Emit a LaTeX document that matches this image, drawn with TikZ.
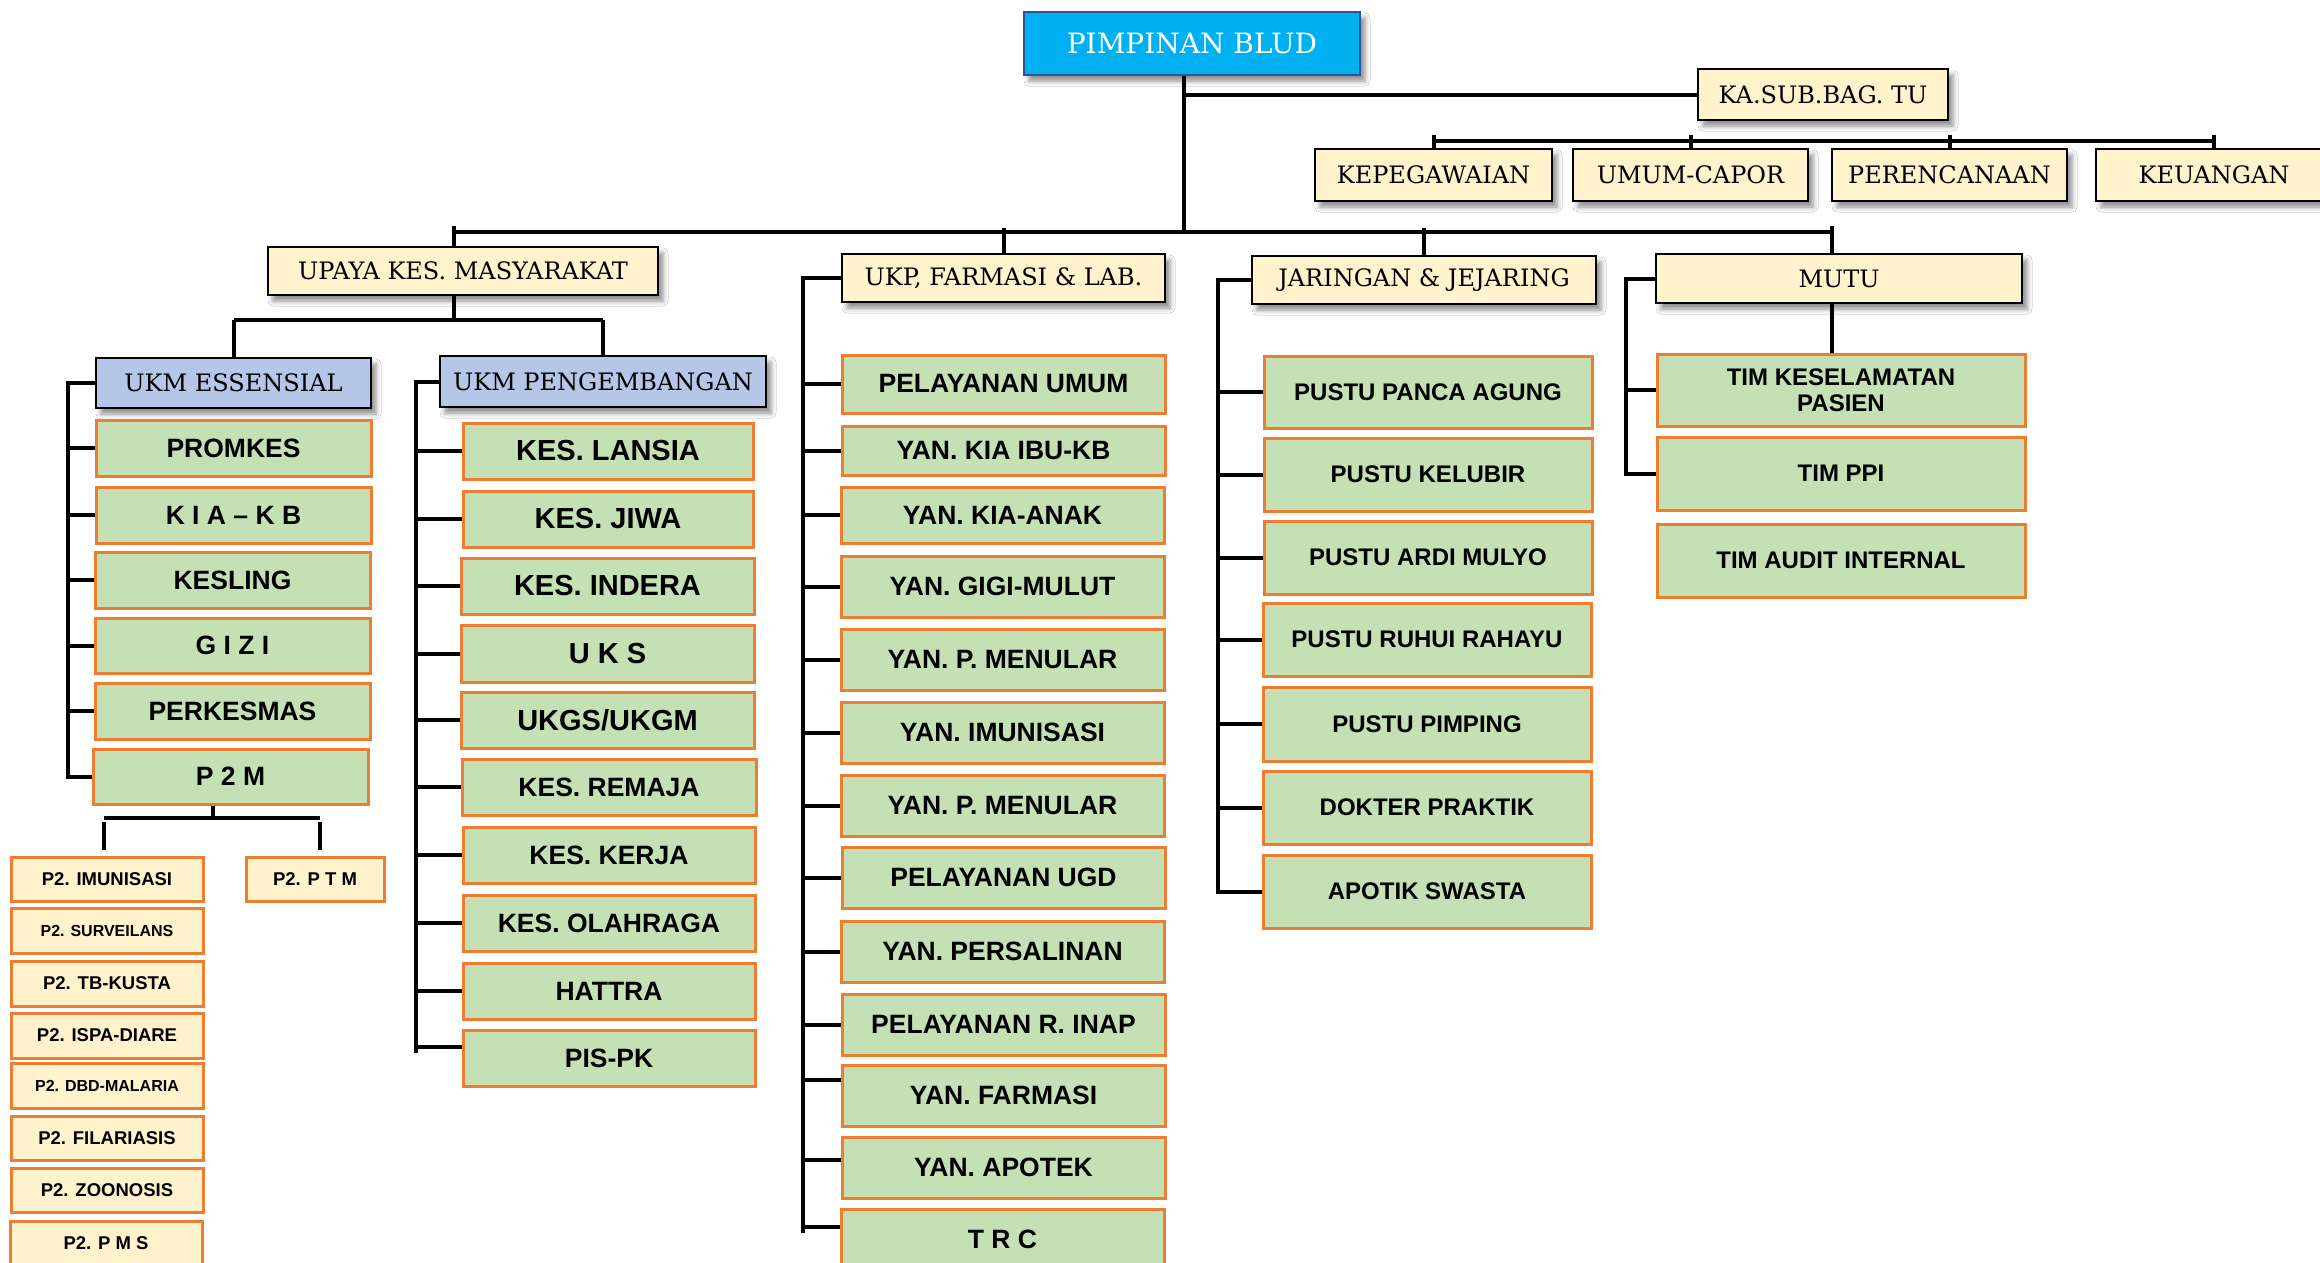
\documentclass[tikz,border=0pt]{standalone}
\usepackage{fontspec}
\newfontfamily\hdfamily{DejaVu Serif}
\newfontfamily\unitfamily{Liberation Sans}
\usetikzlibrary{calc,shadows.blur}

\definecolor{headfill}{HTML}{FFF2CC}
\definecolor{ukmfill}{HTML}{B4C7E7}
\definecolor{topfill}{HTML}{00B0F0}
\definecolor{topline}{HTML}{2F5597}
\definecolor{unitfill}{HTML}{C5E0B4}
\definecolor{unitline}{HTML}{ED7D31}

% box placed by its corners: style, name, x1, y1, x2, y2, text
\newcommand\orgnode[7]{\node[#1, minimum width={#5-#3}, minimum height={#6-#4}] (#2) at ({(#3+#5)/2},{(#4+#6)/2}) {#7};}

\tikzset{
  hdbox/.style={draw=black, line width=2.8pt, fill=headfill, inner sep=0pt,
    font=\hdfamily\fontsize{24}{28}\selectfont,
    blur shadow={shadow xshift=5pt, shadow yshift=-6pt, shadow blur radius=5pt, shadow opacity=45}},
  ukmbox/.style={hdbox, fill=ukmfill},
  topbox/.style={hdbox, draw=topline, fill=topfill, text=white, font=\hdfamily\fontsize{28}{32}\selectfont},
  unitbox/.style={draw=unitline, line width=3pt, fill=unitfill, inner sep=0pt, align=center,
    font=\unitfamily\bfseries\fontsize{26.5}{30}\selectfont},
  bigtxt/.style={font=\unitfamily\bfseries\fontsize{29}{32}\selectfont},
  midtxt/.style={font=\unitfamily\bfseries\fontsize{24}{26}\selectfont},
  p2box/.style={draw=unitline, line width=3pt, fill=headfill, inner sep=0pt,
    font=\unitfamily\bfseries\fontsize{18.5}{22}\selectfont},
  smalltxt/.style={font=\unitfamily\bfseries\fontsize{16}{19}\selectfont},
  link/.style={line width=4pt, black, line join=miter},
}

\begin{document}
\begin{tikzpicture}[x=1pt, y=-1pt]
\useasboundingbox (0,0) rectangle (2320,1262);
\fill[white] (0,0) rectangle (2320,1262);

% ---- top level ----
\orgnode{topbox}{pimp}{1024}{12}{1360}{75}{PIMPINAN BLUD}
\orgnode{hdbox}{kasub}{1698}{69}{1948}{120}{KA.SUB.BAG. TU}
\orgnode{hdbox}{kepeg}{1315}{149}{1552}{201}{KEPEGAWAIAN}
\orgnode{hdbox}{umumc}{1573}{149}{1808}{201}{UMUM-CAPOR}
\orgnode{hdbox}{peren}{1832}{149}{2067}{201}{PERENCANAAN}
\orgnode{hdbox}{keu}{2096}{149}{2332}{201}{KEUANGAN}

% ---- second level ----
\orgnode{hdbox}{upaya}{268}{247}{658}{295}{UPAYA KES. MASYARAKAT}
\orgnode{hdbox}{ukp}{842}{254}{1165}{302}{UKP, FARMASI \& LAB.}
\orgnode{hdbox}{jar}{1252}{256}{1596}{304}{JARINGAN \& JEJARING}
\orgnode{hdbox}{mutu}{1656}{254}{2022}{303}{MUTU}

\orgnode{ukmbox}{ukmE}{96}{358}{371}{408}{UKM ESSENSIAL}
\orgnode{ukmbox}{ukmP}{440}{356}{766}{407}{UKM PENGEMBANGAN}

% ---- UKM essensial ----
\orgnode{unitbox}{promkes}{96}{420}{371}{476}{PROMKES}
\orgnode{unitbox}{kiakb}{96}{487}{371}{543}{K I A – K B}
\orgnode{unitbox}{kesling}{95}{552}{370}{608}{KESLING}
\orgnode{unitbox}{gizi}{95}{618}{370}{673}{G I Z I}
\orgnode{unitbox}{perkes}{95}{683}{370}{739}{PERKESMAS}
\orgnode{unitbox}{p2m}{93}{749}{368}{804}{P 2 M}

\orgnode{p2box}{p2imun}{11}{857}{203}{901}{P2. IMUNISASI}
\orgnode{p2box}{p2ptm}{246}{857}{384}{901}{P2. P T M}
\orgnode{p2box,smalltxt}{p2surv}{11}{908}{203}{953}{P2. SURVEILANS}
\orgnode{p2box}{p2tb}{11}{961}{203}{1006}{P2. TB-KUSTA}
\orgnode{p2box}{p2ispa}{11}{1013}{203}{1058}{P2. ISPA-DIARE}
\orgnode{p2box,smalltxt}{p2dbd}{11}{1063}{203}{1108}{P2. DBD-MALARIA}
\orgnode{p2box}{p2fil}{11}{1116}{203}{1160}{P2. FILARIASIS}
\orgnode{p2box}{p2zoo}{11}{1168}{203}{1212}{P2. ZOONOSIS}
\orgnode{p2box}{p2pms}{10}{1221}{202}{1265}{P2. P M S}

% ---- UKM pengembangan ----
\orgnode{unitbox,bigtxt}{lansia}{463}{423}{753}{479}{KES. LANSIA}
\orgnode{unitbox,bigtxt}{jiwa}{463}{491}{753}{547}{KES. JIWA}
\orgnode{unitbox,bigtxt}{indera}{461}{558}{754}{614}{KES. INDERA}
\orgnode{unitbox,bigtxt}{uks}{461}{625}{754}{682}{U K S}
\orgnode{unitbox,bigtxt}{ukgs}{461}{692}{754}{748}{UKGS/UKGM}
\orgnode{unitbox}{remaja}{462}{759}{756}{815}{KES. REMAJA}
\orgnode{unitbox}{kerja}{463}{827}{755}{883}{KES. KERJA}
\orgnode{unitbox}{olah}{463}{895}{755}{951}{KES. OLAHRAGA}
\orgnode{unitbox}{hattra}{463}{963}{755}{1019}{HATTRA}
\orgnode{unitbox}{pispk}{463}{1030}{755}{1086}{PIS-PK}

% ---- UKP, farmasi & lab ----
\orgnode{unitbox}{pumum}{842}{355}{1165}{413}{PELAYANAN UMUM}
\orgnode{unitbox}{kiaibu}{842}{426}{1165}{475}{YAN. KIA IBU-KB}
\orgnode{unitbox}{kiaanak}{841}{487}{1164}{543}{YAN. KIA-ANAK}
\orgnode{unitbox}{gigi}{841}{556}{1164}{617}{YAN. GIGI-MULUT}
\orgnode{unitbox}{menA}{841}{629}{1164}{690}{YAN. P. MENULAR}
\orgnode{unitbox}{imun}{841}{702}{1164}{763}{YAN. IMUNISASI}
\orgnode{unitbox}{menB}{841}{775}{1164}{836}{YAN. P. MENULAR}
\orgnode{unitbox}{ugd}{842}{847}{1165}{908}{PELAYANAN UGD}
\orgnode{unitbox}{persal}{841}{921}{1164}{982}{YAN. PERSALINAN}
\orgnode{unitbox}{rinap}{842}{994}{1165}{1055}{PELAYANAN R. INAP}
\orgnode{unitbox}{farmasi}{842}{1065}{1165}{1126}{YAN. FARMASI}
\orgnode{unitbox}{apotek}{842}{1137}{1165}{1198}{YAN. APOTEK}
\orgnode{unitbox}{trc}{841}{1209}{1164}{1270}{T R C}

% ---- jaringan & jejaring ----
\orgnode{unitbox,midtxt}{panca}{1264}{356}{1592}{428}{PUSTU PANCA AGUNG}
\orgnode{unitbox,midtxt}{kelubir}{1264}{438}{1592}{511}{PUSTU KELUBIR}
\orgnode{unitbox,midtxt}{ardi}{1264}{521}{1592}{594}{PUSTU ARDI MULYO}
\orgnode{unitbox,midtxt}{ruhui}{1263}{603}{1591}{676}{PUSTU RUHUI RAHAYU}
\orgnode{unitbox,midtxt}{pimping}{1263}{687}{1591}{761}{PUSTU PIMPING}
\orgnode{unitbox,midtxt}{dokter}{1263}{771}{1591}{844}{DOKTER PRAKTIK}
\orgnode{unitbox,midtxt}{apotik}{1263}{855}{1591}{928}{APOTIK SWASTA}

% ---- mutu ----
\orgnode{unitbox,midtxt}{tks}{1657}{354}{2025}{426}{TIM KESELAMATAN\\PASIEN}
\orgnode{unitbox,midtxt}{ppi}{1657}{437}{2025}{510}{TIM PPI}
\orgnode{unitbox,midtxt}{audit}{1657}{524}{2025}{597}{TIM AUDIT INTERNAL}

% ---- connectors ----
\coordinate (trunk) at (1184,232);
\coordinate (barL) at (454,232);
\coordinate (barR) at (1832,232);
\coordinate (tuBar) at (1436,141);
\coordinate (ukmBar) at (454,320);
\coordinate (p2top) at (213,818);
\coordinate (p2L) at (104,818);
\coordinate (p2R) at (320,818);
\coordinate (essx) at (68,0);
\coordinate (pengx) at (416,0);
\coordinate (ukpx) at (803,0);
\coordinate (jarx) at (1218,0);
\coordinate (mutux) at (1626,0);

% leader to the main bar and the admin branch
\draw[link] (trunk |- pimp.south) -- (trunk);
\draw[link] (trunk |- kasub.west) -- (kasub.west);
\draw[link] (tuBar) -- (keu.north |- tuBar);
\foreach \n in {kepeg,umumc,peren,keu}
  \draw[link] ($(\n.north |- tuBar)+(0,-6)$) -- (\n.north);

% main bar with the four divisions
\draw[link] (barL) -- (barR);
\draw[link] ($(barL)+(0,-6)$) -- (barL |- upaya.north);
\draw[link] ($(ukp.north |- barL)+(0,-4)$) -- (ukp.north);
\draw[link] ($(jar.north |- barL)+(0,-4)$) -- (jar.north);
\draw[link] ($(barR)+(0,-6)$) -- (barR |- mutu.north);

% upaya kesehatan masyarakat split
\draw[link] (barL |- upaya.south) -- (ukmBar);
\draw[link] (ukmE.north |- ukmBar) -- (ukmP.north |- ukmBar);
\draw[link] (ukmE.north |- ukmBar) -- (ukmE.north);
\draw[link] (ukmP.north |- ukmBar) -- (ukmP.north);

% UKM essensial spine
\draw[link] (ukmE.west) -- (ukmE.west -| essx) -- (p2m.west -| essx) -- (p2m.west);
\foreach \n in {promkes,kiakb,kesling,gizi,perkes}
  \draw[link] (\n.west) -- (\n.west -| essx);

% P2M split
\draw[link] (p2top |- p2m.south) -- (p2top);
\draw[link] (p2L) -- (p2R);
\draw[link] ($(p2L)+(0,4)$) -- ($(p2L |- p2imun.north)+(0,-6)$);
\draw[link] ($(p2R)+(0,4)$) -- ($(p2R |- p2ptm.north)+(0,-6)$);

% UKM pengembangan spine
\draw[link] (ukmP.west) -- (ukmP.west -| pengx) -- ($(pispk.west -| pengx)+(0,-5)$);
\foreach \n in {lansia,jiwa,indera,uks,ukgs,remaja,kerja,olah,hattra}
  \draw[link] (\n.west) -- (\n.west -| pengx);
\draw[link] ($(pispk.west)+(0,-11)$) -- ($(pispk.west -| pengx)+(0,-11)$);

% UKP spine
\draw[link] (ukp.west) -- (ukp.west -| ukpx) -- ($(trc.west -| ukpx)+(0,-7)$);
\foreach \n in {pumum,kiaibu,kiaanak,gigi,menA,imun,menB,ugd,persal,rinap}
  \draw[link] (\n.west) -- (\n.west -| ukpx);
\draw[link] ($(farmasi.west)+(0,-16)$) -- ($(farmasi.west -| ukpx)+(0,-16)$);
\draw[link] ($(apotek.west)+(0,-8)$) -- ($(apotek.west -| ukpx)+(0,-8)$);
\draw[link] ($(trc.west)+(0,-13)$) -- ($(trc.west -| ukpx)+(0,-13)$);

% jaringan spine
\draw[link] (jar.west) -- (jar.west -| jarx) -- (apotik.west -| jarx) -- (apotik.west);
\foreach \n in {panca,kelubir,ardi,ruhui,pimping,dokter}
  \draw[link] (\n.west) -- (\n.west -| jarx);

% mutu spine and centre drop
\draw[link] (barR |- mutu.south) -- (barR |- tks.north);
\draw[link] (mutu.west) -- (mutu.west -| mutux) -- (ppi.west -| mutux) -- (ppi.west);
\draw[link] (tks.west) -- (tks.west -| mutux);
\end{tikzpicture}
\end{document}
